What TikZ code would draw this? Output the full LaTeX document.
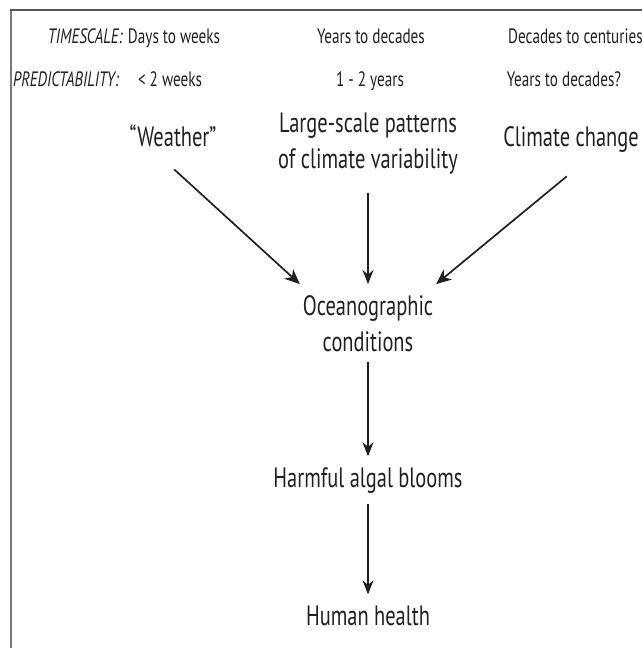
\documentclass[tikz,border=0pt]{standalone}
\usepackage{fontspec}
\setmainfont{PT Sans}[FakeStretch=0.73]
\usetikzlibrary{arrows.meta,positioning,calc}
\definecolor{ink}{HTML}{231F20}
\definecolor{frmtop}{HTML}{555555}
\definecolor{frmside}{HTML}{7A7A7A}
\tikzset{
  sidearr/.style={-{Stealth[length=15pt,width=13pt,inset=4.5pt]}, line width=1.7pt, ink},
  flowarr/.style={-{Stealth[length=14pt,width=11pt,inset=4.5pt]}, line width=1.3pt, ink},
  biglab/.style={font=\fontsize{28pt}{36pt}\selectfont, text=ink, inner sep=0pt, outer ysep=11pt, outer xsep=3pt, align=center},
  slab/.style={font=\fontsize{20.8pt}{25pt}\selectfont, text=ink, inner sep=0pt},
  keylab/.style={slab, font=\fontsize{20.8pt}{25pt}\selectfont\itshape},
}

\begin{document}
\begin{tikzpicture}[x=1pt,y=-1pt]
\useasboundingbox (0,0) rectangle (642,648);

% frame, cut off at the right and at the bottom
\begin{scope}
  \clip (0,0) rectangle (642,648);
  \draw[frmside, line width=2pt] (11,660) -- (11,10);
  \draw[frmtop, line width=2pt] (10,10) -- (660,10);
\end{scope}

% ===================== timescale and predictability rows ====================
\node[slab, anchor=base] (tsweek) at (174,43) {Days to weeks};
\node[slab, anchor=base] (tsyear) at (371,43) {Years to decades};
\node[slab, anchor=base west] (tscent) at (508,43) {Decades to centuries};
\node[keylab, anchor=base east] (tslab) at ([xshift=-5pt]tsweek.base west) {TIMESCALE:};

\node[slab, anchor=base] (prweek) at (170,86) {< 2 weeks};
\node[slab, anchor=base] (pryear) at (370,86) {1 - 2 years};
\node[slab, anchor=base] (prcent) at (564,86) {Years to decades?};
\node[keylab, anchor=base west] (prlab) at (13,86) {PREDICTABILITY:};

% ===================== drivers and chain ====================================
% (base of a two-line node = baseline of its last line)
\node[biglab, anchor=base] (weather) at (173,146) {“Weather”};
\node[biglab, anchor=base] (patterns) at (368,168) {Large-scale patterns\\of climate variability};
\node[biglab, anchor=base] (climate) at (571,146) {Climate change};
\node[biglab, anchor=base] (ocean) at (368,351) {Oceanographic\\conditions};
\node[biglab, anchor=base] (hab) at (368,487) {Harmful algal blooms};
\node[biglab, anchor=base] (health) at (368,625) {Human health};

\draw[sidearr, shorten <=18pt] ([xshift=-12pt]weather.south) -- (ocean.north west);
\draw[flowarr, shorten <=8pt] (patterns.south) -- (patterns.south |- ocean.north);
\draw[sidearr, shorten <=21pt] ([xshift=12pt]climate.south) -- (ocean.north east);
\draw[flowarr] (ocean.south) -- (ocean.south |- hab.north);
\draw[flowarr] (hab.south) -- (hab.south |- health.north);

\end{tikzpicture}
\end{document}
